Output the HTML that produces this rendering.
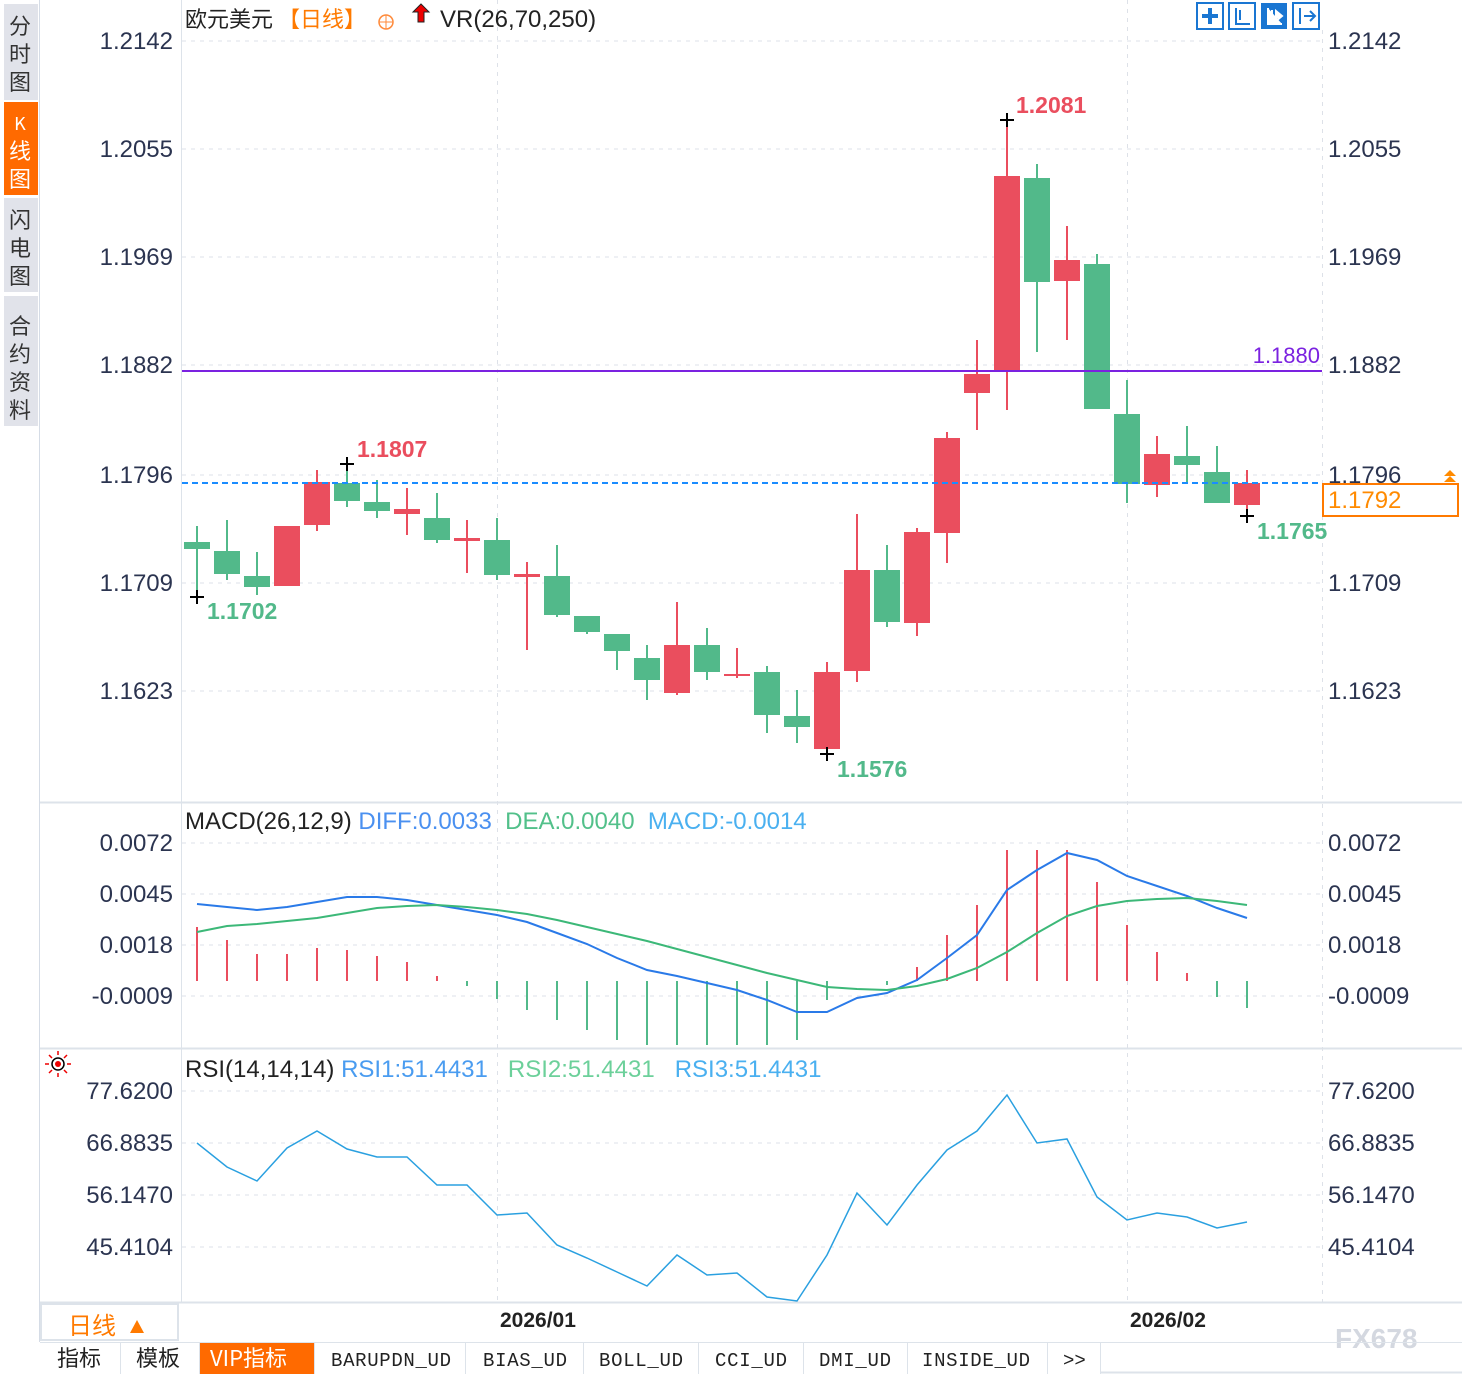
<!DOCTYPE html>
<html><head><meta charset="utf-8"><style>
html,body{margin:0;padding:0;background:#fff;width:1462px;height:1374px;overflow:hidden}
svg{display:block;font-family:"Liberation Sans","Noto Sans CJK SC",sans-serif}
</style></head><body>
<svg width="1462" height="1374" viewBox="0 0 1462 1374">
<rect x="4" y="4" width="34" height="96" fill="#e1e3ea"/>
<rect x="4" y="102" width="34" height="93" fill="#ff6a00"/>
<rect x="4" y="198" width="34" height="94" fill="#e1e3ea"/>
<rect x="4" y="296" width="34" height="130" fill="#e1e3ea"/>
<g font-size="22" fill="#333" text-anchor="middle" font-family="Noto Sans CJK SC,sans-serif">
<text x="20" y="34">分</text><text x="20" y="62">时</text><text x="20" y="90">图</text>
<text x="20" y="130" fill="#fff" font-size="18">K</text><text x="20" y="159" fill="#fff">线</text><text x="20" y="187" fill="#fff">图</text>
<text x="20" y="228">闪</text><text x="20" y="256">电</text><text x="20" y="284">图</text>
<text x="20" y="334">合</text><text x="20" y="362">约</text><text x="20" y="390">资</text><text x="20" y="418">料</text>
</g>
<line x1="39.5" y1="0" x2="39.5" y2="1342" stroke="#d5dce6"/>
<line x1="181.5" y1="0" x2="181.5" y2="1302" stroke="#dde3ea"/>
<line x1="40" y1="802.5" x2="1462" y2="802.5" stroke="#dde3ea" stroke-width="2"/>
<line x1="40" y1="1048.5" x2="1462" y2="1048.5" stroke="#dde3ea" stroke-width="2"/>
<line x1="40" y1="1302.5" x2="1462" y2="1302.5" stroke="#dde3ea" stroke-width="2"/>
<g stroke="#dde1e8" stroke-dasharray="4,5">
<line x1="182" y1="41" x2="1322" y2="41"/><line x1="182" y1="149" x2="1322" y2="149"/><line x1="182" y1="257" x2="1322" y2="257"/><line x1="182" y1="365" x2="1322" y2="365"/><line x1="182" y1="475" x2="1322" y2="475"/><line x1="182" y1="583" x2="1322" y2="583"/><line x1="182" y1="691" x2="1322" y2="691"/>
<line x1="182" y1="843" x2="1322" y2="843"/><line x1="182" y1="894" x2="1322" y2="894"/><line x1="182" y1="945" x2="1322" y2="945"/><line x1="182" y1="996" x2="1322" y2="996"/>
<line x1="182" y1="1091" x2="1322" y2="1091"/><line x1="182" y1="1143" x2="1322" y2="1143"/><line x1="182" y1="1195" x2="1322" y2="1195"/><line x1="182" y1="1247" x2="1322" y2="1247"/>
<line x1="497.5" y1="0" x2="497.5" y2="1302"/><line x1="1127.5" y1="0" x2="1127.5" y2="1302"/><line x1="1322.5" y1="30" x2="1322.5" y2="1302"/>
</g>
<g font-size="24" fill="#2b3450" text-anchor="end">
<text x="173" y="49">1.2142</text><text x="173" y="157">1.2055</text><text x="173" y="265">1.1969</text><text x="173" y="373">1.1882</text><text x="173" y="483">1.1796</text><text x="173" y="591">1.1709</text><text x="173" y="699">1.1623</text>
<text x="173" y="851">0.0072</text><text x="173" y="902">0.0045</text><text x="173" y="953">0.0018</text><text x="173" y="1004">-0.0009</text>
<text x="173" y="1099">77.6200</text><text x="173" y="1151">66.8835</text><text x="173" y="1203">56.1470</text><text x="173" y="1255">45.4104</text>
</g>
<g font-size="24" fill="#2b3450">
<text x="1328" y="49">1.2142</text><text x="1328" y="157">1.2055</text><text x="1328" y="265">1.1969</text><text x="1328" y="373">1.1882</text><text x="1328" y="483">1.1796</text><text x="1328" y="591">1.1709</text><text x="1328" y="699">1.1623</text>
<text x="1328" y="851">0.0072</text><text x="1328" y="902">0.0045</text><text x="1328" y="953">0.0018</text><text x="1328" y="1004">-0.0009</text>
<text x="1328" y="1099">77.6200</text><text x="1328" y="1151">66.8835</text><text x="1328" y="1203">56.1470</text><text x="1328" y="1255">45.4104</text>
</g>
<text x="185" y="27" font-size="22" fill="#222" font-family="Noto Sans CJK SC,sans-serif">欧元美元 <tspan fill="#ff7a00">【日线】</tspan></text>
<circle cx="386" cy="22" r="7" fill="none" stroke="#ff8a3a" stroke-width="1.5"/><line x1="379" y1="22" x2="393" y2="22" stroke="#ff8a3a"/><line x1="386" y1="15" x2="386" y2="29" stroke="#ff8a3a"/>
<path d="M421 4 L429 12 L424 12 L424 22 L418 22 L418 12 L413 12 Z" fill="#e00" stroke="#222" stroke-width="1"/>
<text x="440" y="27" font-size="24" fill="#222">VR(26,70,250)</text>
<g fill="none" stroke="#1a76d2" stroke-width="2">
<rect x="1197" y="3" width="26" height="26"/><rect x="1229" y="3" width="26" height="26"/><rect x="1293" y="3" width="26" height="26"/>
</g>
<rect x="1261" y="3" width="26" height="26" fill="#1a76d2"/>
<g fill="#1a76d2"><rect x="1208" y="8" width="4" height="16"/><rect x="1202" y="14" width="16" height="4"/></g>
<path d="M1236 8v16h14M1240 10v10M1300 8v16M1304 16h10M1310 11l5 5-5 5" stroke="#1a76d2" stroke-width="2" fill="none"/>
<path d="M1268 8v16h14M1272 10v10M1276 11l6 5-6 5z" stroke="#fff" stroke-width="2" fill="#fff"/>
<!-- candles -->
<path stroke="#ea4e5e" stroke-width="2" fill="none" d="M287 526v60M317 470v61M407 488v47M467 520v53M527 562v88M677 602v93M737 648v30M827 662v92M857 514v168M917 528v108M947 432v131M977 340v90M1007 119v291M1067 226v114M1157 436v61M1247 470v45"/>
<path stroke="#52b98a" stroke-width="2" fill="none" d="M197 526v71M227 520v60M257 552v43M347 463v44M377 480v38M437 493v50M497 518v62M557 545v72M587 616v18M617 634v36M647 645v55M707 628v52M767 666v67M797 690v53M887 545v82M1037 164v188M1097 254v155M1127 380v123M1187 426v56M1217 446v57"/>
<g fill="#ea4e5e">
<rect x="274" y="526" width="26" height="60"/><rect x="304" y="482" width="26" height="43"/><rect x="394" y="509" width="26" height="5"/><rect x="454" y="538" width="26" height="3"/><rect x="514" y="574" width="26" height="3"/><rect x="664" y="645" width="26" height="48"/><rect x="724" y="674" width="26" height="2"/><rect x="814" y="672" width="26" height="77"/><rect x="844" y="570" width="26" height="101"/><rect x="904" y="532" width="26" height="91"/><rect x="934" y="438" width="26" height="95"/><rect x="964" y="374" width="26" height="19"/><rect x="994" y="176" width="26" height="196"/><rect x="1054" y="260" width="26" height="21"/><rect x="1144" y="454" width="26" height="31"/><rect x="1234" y="483" width="26" height="22"/>
</g>
<g fill="#52b98a">
<rect x="184" y="542" width="26" height="7"/><rect x="214" y="551" width="26" height="23"/><rect x="244" y="576" width="26" height="11"/><rect x="334" y="483" width="26" height="18"/><rect x="364" y="502" width="26" height="9"/><rect x="424" y="518" width="26" height="22"/><rect x="484" y="540" width="26" height="35"/><rect x="544" y="576" width="26" height="39"/><rect x="574" y="616" width="26" height="16"/><rect x="604" y="634" width="26" height="17"/><rect x="634" y="658" width="26" height="22"/><rect x="694" y="645" width="26" height="27"/><rect x="754" y="672" width="26" height="43"/><rect x="784" y="716" width="26" height="11"/><rect x="874" y="570" width="26" height="52"/><rect x="1024" y="178" width="26" height="104"/><rect x="1084" y="264" width="26" height="145"/><rect x="1114" y="414" width="26" height="70"/><rect x="1174" y="456" width="26" height="9"/><rect x="1204" y="472" width="26" height="31"/>
</g>
<line x1="182" y1="371" x2="1322" y2="371" stroke="#7b22e0" stroke-width="2"/>
<text x="1320" y="363" font-size="22" fill="#7b22e0" text-anchor="end">1.1880</text>
<line x1="182" y1="483" x2="1322" y2="483" stroke="#1a8cff" stroke-width="2" stroke-dasharray="6,4"/>
<rect x="1323" y="484" width="135" height="32" fill="#fff" stroke="#ff7a00" stroke-width="2"/>
<text x="1328" y="508" font-size="24" fill="#ff8a00">1.1792</text>
<path d="M1444 476l6-6 6 6zM1444 482l6-6 6 6z" fill="#ff8a00"/>
<g font-size="23" font-weight="bold">
<text x="1016" y="113" fill="#ea4e5e">1.2081</text>
<text x="357" y="457" fill="#ea4e5e">1.1807</text>
<text x="207" y="619" fill="#52b98a">1.1702</text>
<text x="837" y="777" fill="#52b98a">1.1576</text>
<text x="1257" y="539" fill="#52b98a">1.1765</text>
</g>
<g stroke="#000" stroke-width="2">
<path d="M1000 120h14M1007 113v14M340 464h14M347 457v14M190 597h14M197 590v14M820 754h14M827 747v14M1240 516h14M1247 509v14"/>
</g>
<text x="185" y="829" font-size="24" fill="#222" xml:space="preserve">MACD(26,12,9) <tspan fill="#4a90f0">DIFF:0.0033</tspan>  <tspan fill="#52c08a">DEA:0.0040</tspan>  <tspan fill="#4ab0f0">MACD:-0.0014</tspan></text>
<path stroke="#ea4e5e" stroke-width="2" fill="none" d="M197 981V927M227 981V940M257 981V954M287 981V954M317 981V948M347 981V950M377 981V956M407 981V962M437 981V976M917 981V967M947 981V935M977 981V905M1007 981V850M1037 981V850M1067 981V850M1097 981V882M1127 981V925M1157 981V952M1187 981V973"/>
<path stroke="#52b98a" stroke-width="2" fill="none" d="M467 981V986M497 981V999M527 981V1010M557 981V1020M587 981V1030M617 981V1040M647 981V1045M677 981V1045M707 981V1045M737 981V1045M767 981V1045M797 981V1040M827 981V1000M887 981V985M1217 981V997M1247 981V1008"/>
<polyline fill="none" stroke="#2a7ae8" stroke-width="2" points="197,904 227,907 257,910 287,907 317,902 347,897 377,897 407,900 437,905 467,910 497,915 527,922 557,933 587,944 617,958 647,970 677,976 707,983 737,990 767,1000 797,1012 827,1012 857,998 887,993 917,980 947,958 977,935 1007,890 1037,870 1067,853 1097,860 1127,876 1157,886 1187,896 1217,908 1247,918"/>
<polyline fill="none" stroke="#3cb878" stroke-width="2" points="197,932 227,926 257,924 287,921 317,918 347,913 377,908 407,906 437,905 467,907 497,910 527,914 557,920 587,927 617,934 647,941 677,949 707,957 737,965 767,973 797,980 827,987 857,989 887,990 917,986 947,979 977,968 1007,952 1037,933 1067,916 1097,906 1127,901 1157,899 1187,898 1217,901 1247,905"/>
<g transform="translate(58,1064)"><circle r="6" fill="none" stroke="#000" stroke-width="1.5"/><circle r="3" fill="#e00"/><path stroke="#e00" stroke-width="1.5" d="M0-13v4M0 9v4M-13 0h4M9 0h4M-9-9l3 3M6 6l3 3M9-9l-3 3M-6 6l-3 3"/></g>
<text x="185" y="1077" font-size="24" fill="#222" xml:space="preserve">RSI(14,14,14) <tspan fill="#4a9cf0">RSI1:51.4431</tspan>   <tspan fill="#6cd09a">RSI2:51.4431</tspan>   <tspan fill="#4ab0f0">RSI3:51.4431</tspan></text>
<polyline fill="none" stroke="#2aa0e0" stroke-width="1.5" points="197,1143 227,1167 257,1181 287,1148 317,1131 347,1149 377,1157 407,1157 437,1185 467,1185 497,1215 527,1213 557,1245 587,1258 617,1272 647,1286 677,1255 707,1275 737,1273 767,1297 797,1301 827,1255 857,1193 887,1225 917,1185 947,1150 977,1131 1007,1095 1037,1143 1067,1139 1097,1197 1127,1220 1157,1213 1187,1217 1217,1228 1247,1222"/>
<rect x="41" y="1304" width="137" height="36" fill="#fff" stroke="#dde3ea" stroke-width="2"/>
<text x="68" y="1334" font-size="24" fill="#ff7a00" font-family="Noto Sans CJK SC,sans-serif">日线</text>
<path d="M130 1333l7-13 7 13z" fill="#ff7a00"/>
<text x="500" y="1327" font-size="21" fill="#222" font-weight="bold">2026/01</text>
<text x="1130" y="1327" font-size="21" fill="#222" font-weight="bold">2026/02</text>
<text x="1335" y="1348" font-size="28" fill="#d4d8e0" font-weight="bold">FX678</text>
<line x1="40" y1="1342.5" x2="1462" y2="1342.5" stroke="#dde3ea"/>
<line x1="1100" y1="1372.5" x2="1462" y2="1372.5" stroke="#dde3ea" stroke-width="2"/>
<rect x="200" y="1343" width="114" height="31" fill="#ff6a00"/>
<path stroke="#dde3ea" d="M120.5 1343v31M199.5 1343v31M314.5 1343v31M465.5 1343v31M583.5 1343v31M698.5 1343v31M803.5 1343v31M907.5 1343v31M1047.5 1343v31M1100.5 1343v31"/>
<g font-size="22" fill="#222" font-family="Noto Sans CJK SC,sans-serif">
<text x="57" y="1366">指标</text><text x="136" y="1366">模板</text><text x="210" y="1366" fill="#fff">VIP指标</text>
</g>
<g font-size="19" fill="#222" font-family="Liberation Mono,monospace" textLength="0">
<text x="331" y="1366" textLength="120">BARUPDN_UD</text>
<text x="483" y="1366" textLength="84">BIAS_UD</text>
<text x="599" y="1366" textLength="84">BOLL_UD</text>
<text x="715" y="1366" textLength="72">CCI_UD</text>
<text x="819" y="1366" textLength="72">DMI_UD</text>
<text x="922" y="1366" textLength="108">INSIDE_UD</text>
<text x="1063" y="1366">&gt;&gt;</text>
</g>
</svg>
</body></html>
